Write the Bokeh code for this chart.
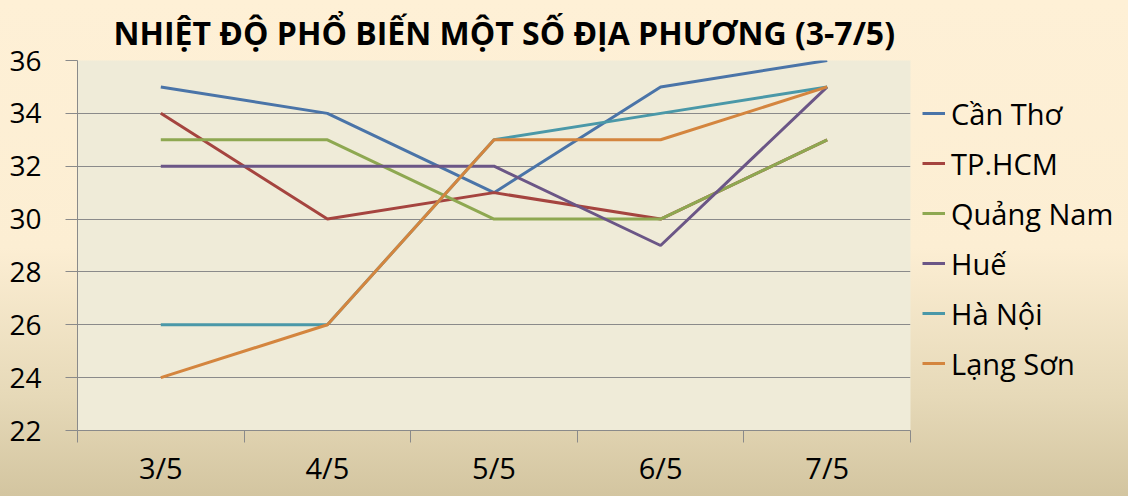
from bokeh.plotting import figure
from bokeh.models import Range1d, FixedTicker, Legend, LegendItem
from bokeh.embed import file_html
from bokeh.resources import INLINE

days = ["3/5", "4/5", "5/5", "6/5", "7/5"]
can_tho = [35, 34, 31, 35, 36]
tp_hcm = [34, 30, 31, 30, 33]
quang_nam = [33, 33, 30, 30, 33]
hue = [32, 32, 32, 29, 35]
ha_noi = [26, 26, 33, 34, 35]
lang_son = [24, 26, 33, 33, 35]

names = ["Cần Thơ", "TP.HCM", "Quảng Nam", "Huế", "Hà Nội", "Lạng Sơn"]
series = [can_tho, tp_hcm, quang_nam, hue, ha_noi, lang_son]
colors = ["#4A74A8", "#A5443F", "#8EA851", "#6B5686", "#4A98A8", "#D4853E"]

xs = list(range(1, len(days) + 1))

L, R, T, B = 77, 218, 60, 66

p = figure(frame_width=833, frame_height=370, output_backend="svg", toolbar_location=None,
           x_range=Range1d(0.5, len(days) + 0.5), y_range=Range1d(22, 36),
           min_border_left=L, min_border_right=R, min_border_top=T, min_border_bottom=B,
           title="NHIỆT ĐỘ PHỔ BIẾN MỘT SỐ ĐỊA PHƯƠNG (3-7/5)")

p.styles = {"background": "linear-gradient(to bottom, #FEF0D6 0%, #FCEED3 50%, #E6D9B8 80%, #D3C5A0 100%)"}
p.border_fill_alpha = 0
p.background_fill_color = "#EFEBD8"
p.outline_line_color = None

p.title.text_font = "Open Sans"
p.title.text_font_style = "bold"
p.title.text_font_size = "32px"
p.title.align = "left"
p.title.offset = 36
p.title.standoff = 12
p.title.vertical_align = "middle"
p.title.text_color = "#000000"

renderers = []
for name, vals, c in zip(names, series, colors):
    r = p.line(xs, vals, line_color=c, line_width=3)
    renderers.append(r)

# grid
p.xgrid.grid_line_color = None
p.ygrid.grid_line_color = "#8A8A8A"
p.ygrid.grid_line_width = 1

# y axis
p.yaxis.ticker = FixedTicker(ticks=list(range(22, 37, 2)))
p.yaxis.axis_line_color = "#8A8A8A"
p.yaxis.major_tick_line_color = "#8A8A8A"
p.yaxis.major_tick_out = 12
p.yaxis.major_tick_in = 0
p.yaxis.minor_tick_line_color = None
p.yaxis.major_label_text_font = "Open Sans"
p.yaxis.major_label_text_font_size = "28px"
p.yaxis.major_label_text_color = "#000000"
p.yaxis.major_label_standoff = 24

# x axis
p.xaxis.ticker = FixedTicker(ticks=xs, minor_ticks=[x - 0.5 for x in xs] + [xs[-1] + 0.5])
p.xaxis.major_label_overrides = {x: d for x, d in zip(xs, days)}
p.xaxis.axis_line_color = "#8A8A8A"
p.xaxis.major_tick_line_color = None
p.xaxis.major_tick_out = 0
p.xaxis.major_tick_in = 0
p.xaxis.minor_tick_line_color = "#8A8A8A"
p.xaxis.minor_tick_out = 12
p.xaxis.minor_tick_in = 0
p.xaxis.major_label_text_font = "Open Sans"
p.xaxis.major_label_text_font_size = "29px"
p.xaxis.major_label_text_color = "#000000"
p.xaxis.major_label_standoff = 5

# legend in the right panel
item_h = 50
legend = Legend(items=[LegendItem(label=n, renderers=[r]) for n, r in zip(names, renderers)],
                location=(12, 42))
legend.background_fill_alpha = 0
legend.border_line_color = None
legend.padding = 0
legend.margin = 0
legend.glyph_width = 23
legend.glyph_height = item_h
legend.label_height = item_h
legend.label_standoff = 6
legend.label_text_font = "Open Sans"
legend.label_text_font_size = "29px"
legend.label_text_color = "#000000"
legend.spacing = 0
p.add_layout(legend, "right")

open("out.html", "w").write(file_html(p, INLINE))
